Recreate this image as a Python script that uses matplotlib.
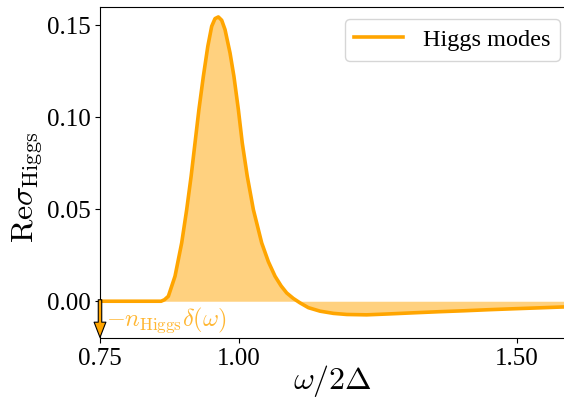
import numpy as np
import matplotlib
matplotlib.use('Agg')
import matplotlib.pyplot as plt

plt.rcParams['font.family'] = ['Liberation Serif', 'DejaVu Serif']
plt.rcParams['mathtext.fontset'] = 'cm'

#frequency omega/2Delta and Re sigma_Higgs
omega = [0.75, 0.80, 0.85, 0.860, 0.866, 0.873, 0.885, 0.897, 0.906, 0.914, 0.921,
         0.928, 0.936, 0.944, 0.951, 0.957, 0.963, 0.969, 0.975, 0.984, 0.991,
         0.999, 1.006, 1.015, 1.026, 1.041, 1.053, 1.065, 1.076, 1.086, 1.098,
         1.110, 1.125, 1.146, 1.170, 1.194, 1.230, 1.270, 1.314, 1.360, 1.404,
         1.450, 1.494, 1.540, 1.585]
sigma = [0.0, 0.0, 0.0, 0.0, 0.0008, 0.0027, 0.0136, 0.0317, 0.0498, 0.068, 0.0861,
         0.1042, 0.1223, 0.1386, 0.1495, 0.1537, 0.1546, 0.1528, 0.1477, 0.135, 0.1223,
         0.1042, 0.0861, 0.068, 0.0498, 0.0317, 0.0215, 0.0136, 0.0083, 0.0045, 0.0015,
         -0.0009, -0.0035, -0.0054, -0.0066, -0.0072, -0.0074, -0.0069, -0.0063, -0.0057, -0.0052,
         -0.0046, -0.0041, -0.0036, -0.0031]

xticks = [0.75, 1.00, 1.50]
yticks = [0.00, 0.05, 0.10, 0.15]

fig = plt.figure(figsize=(5.64, 4.05), dpi=100)
ax = fig.add_axes([0.1773, 0.1654, 0.8227, 0.8173])

ax.fill_between(omega, sigma, 0, color='orange', alpha=0.5, lw=0)
ax.plot(omega, sigma, color='orange', lw=2.6, solid_joinstyle='round',
        label='Higgs modes')

#delta function at omega = 0.75
ax.annotate('', xy=(0.75, -0.0197), xytext=(0.75, 0.0008),
            arrowprops=dict(facecolor='orange', edgecolor='black', lw=0.8,
                            width=2.5, headwidth=8.5, headlength=11, shrink=0),
            annotation_clip=False)
ax.text(0.761, -0.0105, r'$-n_{\rm Higgs}\delta(\omega)$', color='orange',
        alpha=0.8, fontsize=17.5, va='center', ha='left')

ax.set_xlim(0.75, 1.585)
ax.set_ylim(-0.02, 0.16)
ax.set_xticks(xticks)
ax.set_xticklabels(['%.2f' % t for t in xticks])
ax.set_yticks(yticks)
ax.set_yticklabels(['%.2f' % t for t in yticks])
ax.tick_params(labelsize=18)
ax.spines['right'].set_visible(False)

ax.set_xlabel(r'$\omega/2\Delta$', fontsize=23)
ax.set_ylabel(r'${\rm Re}\sigma_{\rm Higgs}$', fontsize=23)
ax.xaxis.set_label_coords(0.5, -0.075)
ax.yaxis.set_label_coords(-0.118, 0.455)

ax.legend(loc='upper right', fontsize=17.5, bbox_to_anchor=(1.017, 1.0))

fig.savefig('out.png', dpi=100)
